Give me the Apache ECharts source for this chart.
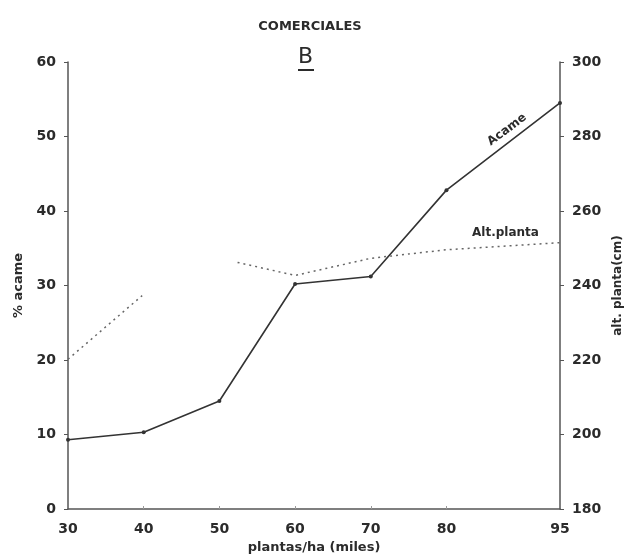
<!DOCTYPE html>
<html>
<head>
<meta charset="utf-8">
<title>Comerciales B</title>
<script src="https://cdn.jsdelivr.net/npm/echarts@6/dist/echarts.min.js"></script>
<style>
  html, body { margin: 0; padding: 0; background: #ffffff; }
  #chart { width: 633px; height: 559px; }
</style>
</head>
<body>
<div id="chart"></div>
<script>
// Density (thousand plants/ha)
const densidad = [30, 40, 50, 60, 70, 80, 95];
// Lodging (%)
const acame = [9.3, 10.3, 14.5, 30.2, 31.2, 42.8, 54.5];
// Plant height (cm): first traced stretch, then the later stretch
const altX1 = [30, 39.8];
const altY1 = [220.2, 237.3];
const altX2 = [52.4, 60, 70, 80, 95];
const altY2 = [246.2, 242.7, 247.3, 249.6, 251.5];
// Tick labels
const xTicks = [30, 40, 50, 60, 70, 80, 95];

const ink = '#2b2b2b';
const axisInk = '#555555';
const font = 'DejaVu Sans';

const pairs = (xs, ys) => xs.map((x, i) => [x, ys[i]]);
const altData = pairs(altX1, altY1).concat([[46, '-']], pairs(altX2, altY2));

// Invisible anchor carrying a text label at a data coordinate
const textAt = (coord, text, rotate) => ({
  coord: coord,
  symbol: 'circle',
  symbolSize: 1,
  itemStyle: { color: 'rgba(0,0,0,0)' },
  label: {
    show: true,
    position: 'inside',
    formatter: text,
    rotate: rotate || 0,
    fontFamily: font, fontWeight: 'bold', fontSize: 12, color: ink
  }
});

const chart = echarts.init(document.getElementById('chart'), null, { renderer: 'canvas' });

chart.setOption({
  backgroundColor: '#ffffff',
  animation: false,
  title: {
    text: 'COMERCIALES',
    left: 305,
    top: 15,
    textAlign: 'center',
    textStyle: { fontFamily: font, fontWeight: 'bold', fontSize: 13, color: ink }
  },
  graphic: [
    {
      type: 'text',
      left: 298,
      top: 46,
      style: { text: 'B', font: '22px "DejaVu Sans"', fill: ink }
    },
    {
      type: 'rect',
      left: 298,
      top: 69,
      shape: { width: 16, height: 2 },
      style: { fill: ink }
    }
  ],
  grid: { left: 68, right: 73, top: 62, bottom: 49, containLabel: false },
  xAxis: {
    type: 'value',
    min: 30,
    max: 95,
    name: 'plantas/ha (miles)',
    nameLocation: 'middle',
    nameGap: 32,
    nameTextStyle: { fontFamily: font, fontWeight: 'bold', fontSize: 13, color: ink },
    axisLine: { lineStyle: { color: axisInk, width: 1.5 } },
    axisTick: { show: true, inside: true, length: 3, customValues: [40, 50, 60, 70, 80], lineStyle: { color: '#999' } },
    axisLabel: {
      customValues: xTicks,
      margin: 13,
      fontFamily: font, fontWeight: 'bold', fontSize: 14, color: ink
    },
    splitLine: { show: false }
  },
  yAxis: [
    {
      type: 'value',
      min: 0,
      max: 60,
      interval: 10,
      position: 'left',
      name: '% acame',
      nameLocation: 'middle',
      nameGap: 40,
      nameTextStyle: { fontFamily: font, fontWeight: 'bold', fontSize: 13, color: ink },
      axisLine: { show: true, lineStyle: { color: axisInk, width: 1.5 } },
      axisTick: { show: true, length: 4, lineStyle: { color: axisInk } },
      axisLabel: { margin: 12, fontFamily: font, fontWeight: 'bold', fontSize: 14, color: ink },
      splitLine: { show: false }
    },
    {
      type: 'value',
      min: 180,
      max: 300,
      interval: 20,
      position: 'right',
      name: 'alt. planta(cm)',
      nameLocation: 'middle',
      nameGap: 52,
      nameRotate: 90,
      nameTextStyle: { fontFamily: font, fontWeight: 'bold', fontSize: 12, color: ink },
      axisLine: { show: true, lineStyle: { color: axisInk, width: 1.5 } },
      axisTick: { show: true, length: 4, lineStyle: { color: axisInk } },
      axisLabel: { margin: 12, fontFamily: font, fontWeight: 'bold', fontSize: 14, color: ink },
      splitLine: { show: false }
    }
  ],
  series: [
    {
      name: 'Acame',
      type: 'line',
      yAxisIndex: 0,
      data: pairs(densidad, acame),
      symbol: 'circle',
      symbolSize: 4,
      itemStyle: { color: '#333' },
      lineStyle: { color: '#333', width: 1.6 },
      markPoint: {
        silent: true,
        data: [textAt([88.0, 50.9], 'Acame', 37)]
      }
    },
    {
      name: 'Alt. planta',
      type: 'line',
      yAxisIndex: 1,
      data: altData,
      connectNulls: false,
      showSymbol: false,
      lineStyle: { color: '#666', width: 1.5, type: [2, 4] },
      markPoint: {
        silent: true,
        data: [textAt([87.8, 254.0], 'Alt.planta', 0)]
      }
    }
  ]
});
</script>
</body>
</html>
